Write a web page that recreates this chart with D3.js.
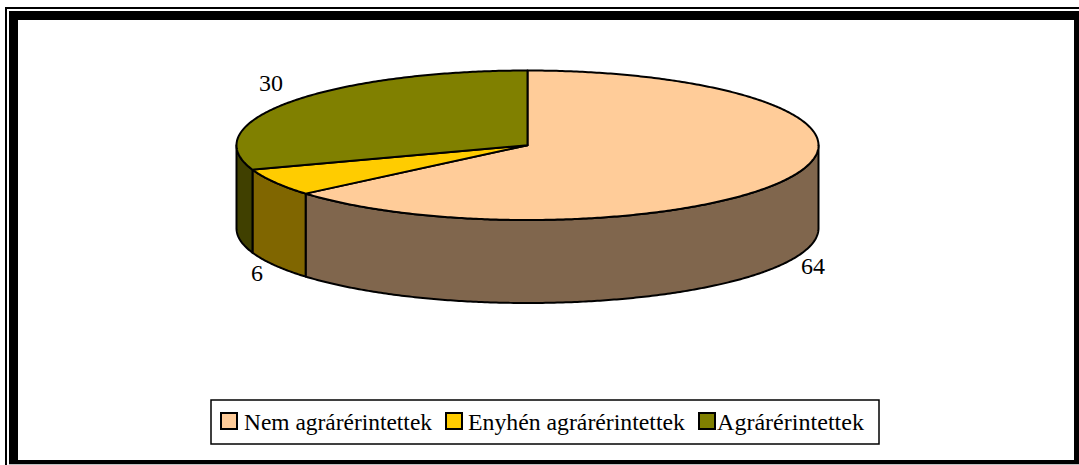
<!DOCTYPE html>
<html><head><meta charset="utf-8">
<script src="https://cdn.jsdelivr.net/npm/d3@7/dist/d3.min.js"></script>
<style>html,body{margin:0;padding:0;background:#fff}svg{display:block}text{font-family:"Liberation Serif",serif;fill:#000}</style>
</head><body><svg id="c" width="1079" height="465"></svg>
<script>
const categories=["Nem agrárérintettek","Enyhén agrárérintettek","Agrárérintettek"];
const values=[63.8,5.9,30.3];
const topColors=["#FFCC99","#FFCC00","#808000"];
const sideColors=["#80664D","#806600","#404000"];
const svg=d3.select("#c");
const W=1079,H=465;
// frame
svg.append("path").attr("fill","none").attr("stroke","#000").attr("stroke-width",2)
 .attr("d",`M6 ${H}V8H${W}`);
svg.append("path").attr("fill-rule","evenodd").attr("fill","#000")
 .attr("d",`M9 11H${W}V${H-0.7}H9Z M18 20V460H1074V20Z`);
// pie
const sx=d3.scaleLinear().domain([-1,1]).range([236.5,818.5]);
const sy=d3.scaleLinear().domain([-1,1]).range([70.5,220]);
const depth=83;
const pie=d3.pie().sort(null).value(d=>d);
const arcs=pie(values);
const pt=a=>[sx(Math.sin(a)),sy(-Math.cos(a))];
const samples=(a0,a1)=>{const n=Math.max(2,Math.ceil((a1-a0)/0.01));return d3.range(n+1).map(i=>pt(a0+(a1-a0)*i/n));};
const line=d3.line();
const g=svg.append("g").attr("stroke","#000").attr("stroke-width",2).attr("stroke-linejoin","round");
arcs.forEach((d,i)=>{
  const a0=Math.max(d.startAngle,Math.PI/2),a1=Math.min(d.endAngle,3*Math.PI/2);
  if(a1<=a0)return;
  const up=samples(a0,a1);
  const down=up.slice().reverse().map(p=>[p[0],p[1]+depth]);
  g.append("path").attr("d",line(up.concat(down))+"Z").attr("fill",sideColors[i]);
});
arcs.forEach((d,i)=>{
  const c=[sx(0),sy(0)];
  g.append("path").attr("d",line([c].concat(samples(d.startAngle,d.endAngle)))+"Z").attr("fill",topColors[i]);
});
// value labels
const labelPos=[[813,274],[257,281],[271,91]];
const fmt=d3.format(".0f");
svg.selectAll("text.v").data(values).join("text").attr("class","v")
 .attr("x",(d,i)=>labelPos[i][0]).attr("y",(d,i)=>labelPos[i][1]).attr("text-anchor","middle")
 .attr("font-size",24).text(fmt);
// legend
const lg=svg.append("g");
lg.append("rect").attr("x",211).attr("y",400).attr("width",668).attr("height",44).attr("fill","#fff").attr("stroke","#000").attr("stroke-width",1.5);
const swX=[221,446,699],txX=[244,468,717],txW=[188,217,147];
categories.forEach((c,i)=>{
  lg.append("rect").attr("x",swX[i]).attr("y",413).attr("width",16).attr("height",16).attr("fill",topColors[i]).attr("stroke","#000").attr("stroke-width",2);
  lg.append("text").attr("x",txX[i]).attr("y",430).attr("font-size",24).attr("textLength",txW[i]).attr("lengthAdjust","spacingAndGlyphs").text(c);
});
</script></body></html>
